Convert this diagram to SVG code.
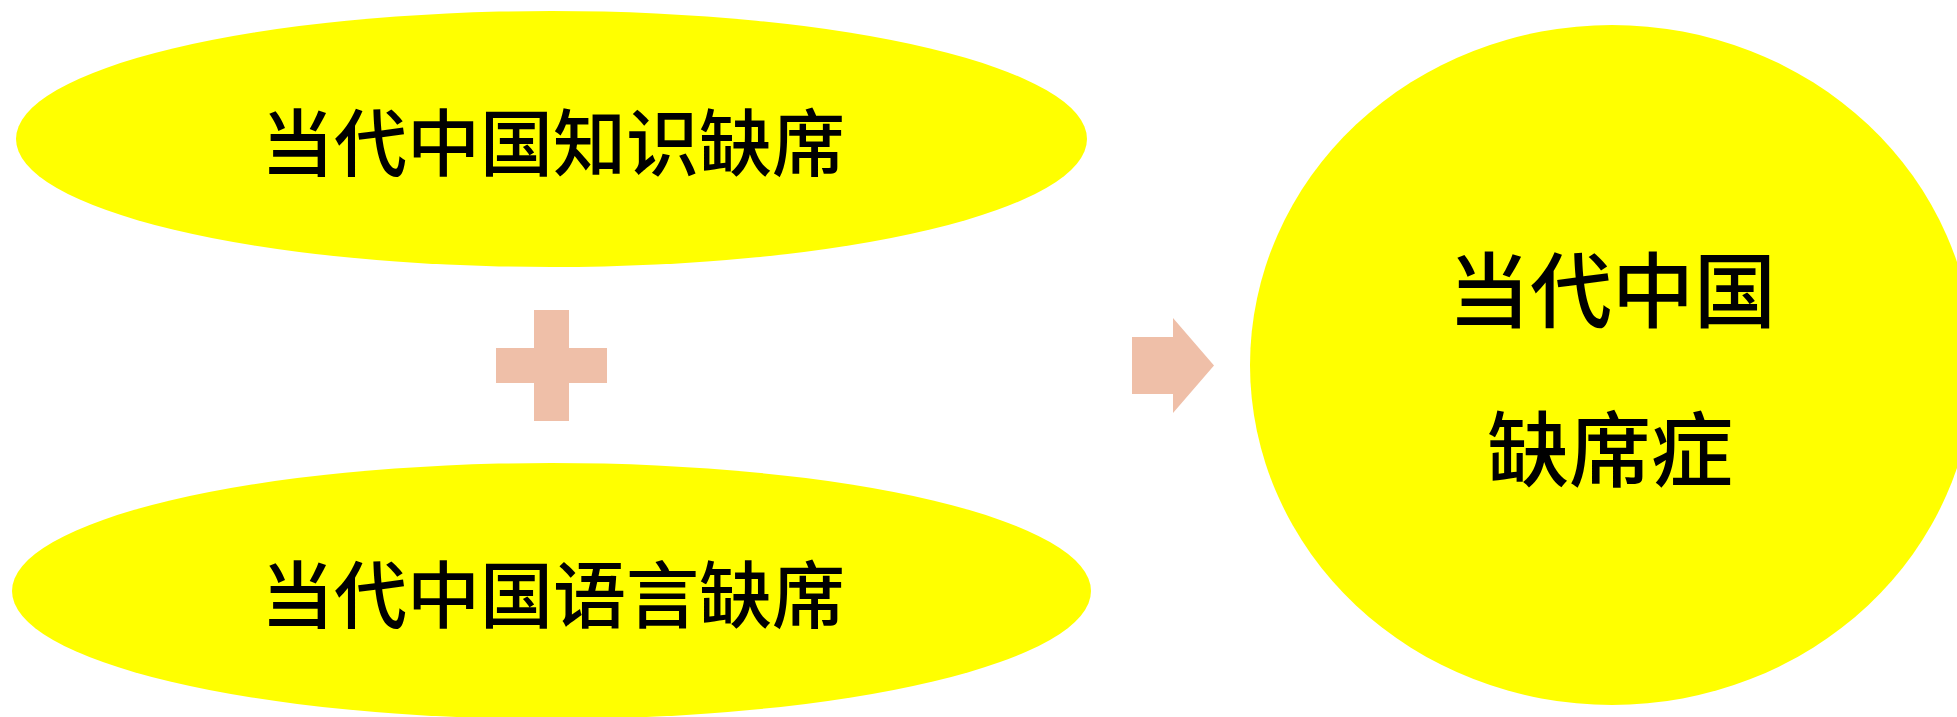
<svg xmlns="http://www.w3.org/2000/svg" width="1957" height="717" viewBox="0 0 1957 717">
  <style>
    .node { fill: #FFFF00; stroke: none; }
    .label { font-family: "Noto Sans CJK SC", "Noto Sans CJK TC", sans-serif; fill: #000000; text-anchor: middle; dominant-baseline: central; font-weight: 500; }
    .op { fill: #EFBFA8; stroke: none; }
  </style>
  <rect x="0" y="0" width="1957" height="717" fill="#FFFFFF"/>
  <g id="node-knowledge">
    <ellipse class="node" cx="551.5" cy="139" rx="535.5" ry="128"/>
    <text class="label" x="553" y="138" font-size="73">当代中国知识缺席</text>
  </g>
  <g id="node-language">
    <ellipse class="node" cx="551.5" cy="591" rx="539.5" ry="128"/>
    <text class="label" x="553" y="590" font-size="73">当代中国语言缺席</text>
  </g>
  <g id="node-result">
    <ellipse class="node" cx="1612" cy="365" rx="362" ry="340"/>
    <text class="label" x="1612" y="285" font-size="82">当代中国</text>
    <text class="label" x="1610" y="444" font-size="82">缺席症</text>
  </g>
  <g id="connectors">
    <polygon id="plus" class="op" points="534,310 569,310 569,348 607,348 607,383 569,383 569,421 534,421 534,383 496,383 496,348 534,348"/>
    <polygon id="arrow" class="op" points="1132,337 1173,337 1173,318 1214,365.5 1173,413 1173,394 1132,394"/>
  </g>
</svg>
